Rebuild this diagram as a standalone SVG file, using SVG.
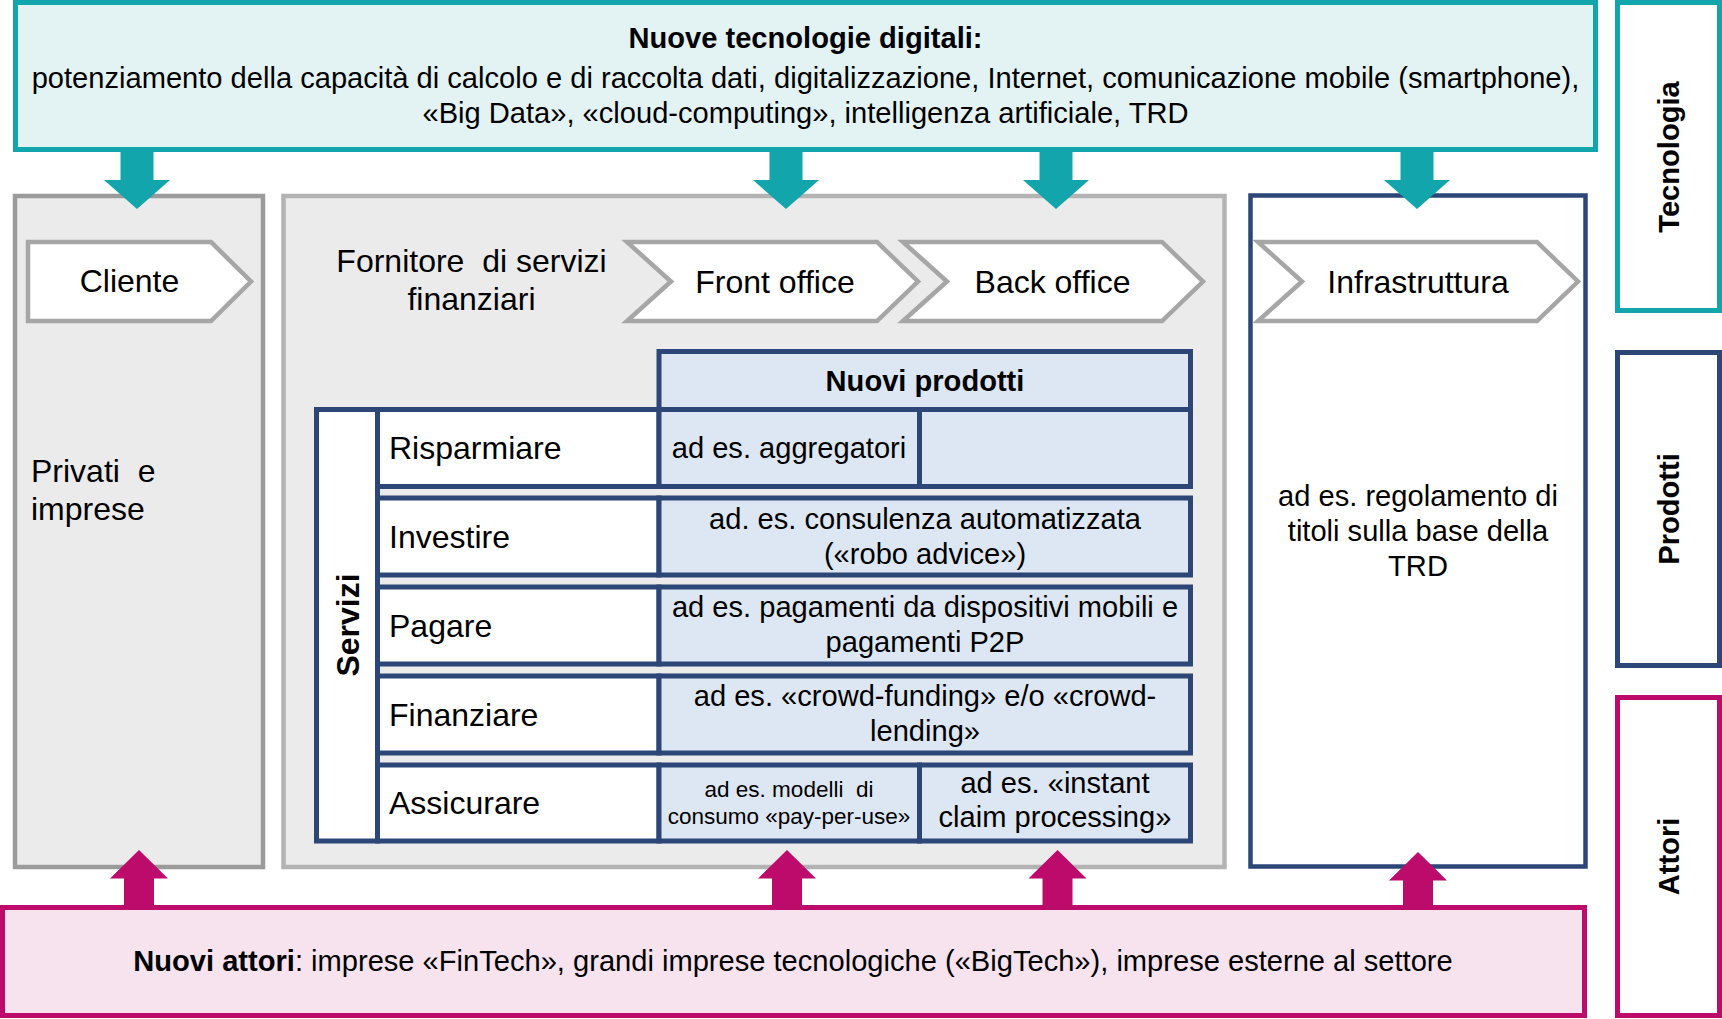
<svg xmlns="http://www.w3.org/2000/svg" width="1722" height="1019" viewBox="0 0 1722 1019">
<style>
text{font-family:"Liberation Sans",Arial,sans-serif;fill:#000}
.lbl{font-size:32px}
.txt{font-size:29.1px}
.sm{font-size:22.5px}
.b{font-weight:bold}
.c{text-anchor:middle}
.tealbox{fill:#e3f3f4;stroke:#12a5ab;stroke-width:5}
.g1{fill:#ebebeb;stroke:#9b9b9b;stroke-width:4.5}
.g2{fill:#ebebeb;stroke:#b3b3b3;stroke-width:4.5}
.nv{fill:#fff;stroke:#2c4677;stroke-width:4.5}
.chev{fill:#fff;stroke:#a6a6a6;stroke-width:4.5}
.cw{fill:#fff;stroke:#2c4677;stroke-width:5}
.cb{fill:#dce7f3;stroke:#2c4677;stroke-width:5}
.st{fill:#fff;stroke:#12a5ab;stroke-width:5}
.sn{fill:#fff;stroke:#2c4677;stroke-width:5}
.sm2{fill:#fff;stroke:#bd0b6b;stroke-width:5}
.magbox{fill:#f6e3ee;stroke:#bd0b6b;stroke-width:5}
.ta{fill:#12a5ab}
.ma{fill:#bd0b6b}
</style>
<defs>
<path id="arrDown" d="M-16.5,0 H16.5 V30 H33 L0,59 L-33,30 H-16.5 Z"/>
<path id="arrUp" d="M0,0 L29,28.5 H15 V58 H-15 V28.5 H-29 Z"/>
</defs>

<g id="nuove-tecnologie">
<rect class="tealbox" x="15.5" y="2.5" width="1580" height="147"/>
<text class="txt b c" x="805.5" y="48">Nuove tecnologie digitali:</text>
<text class="txt c" x="805.5" y="88">potenziamento della capacità di calcolo e di raccolta dati, digitalizzazione, Internet, comunicazione mobile (smartphone),</text>
<text class="txt c" x="805.5" y="123">«Big Data», «cloud-computing», intelligenza artificiale, TRD</text>
</g>

<g id="cliente">
<rect class="g1" x="15" y="196" width="248" height="671"/>
<path class="chev" d="M28,242 H211 L251,281.5 L211,321 H28 Z"/>
<text class="lbl c" x="129.5" y="292">Cliente</text>
<text class="lbl" x="31" y="482" xml:space="preserve">Privati  e</text>
<text class="lbl" x="31" y="520">imprese</text>
</g>

<g id="fornitore">
<rect class="g2" x="283.5" y="196" width="941" height="671"/>
<text class="lbl c" x="471.5" y="272" xml:space="preserve">Fornitore  di servizi</text>
<text class="lbl c" x="471.5" y="310">finanziari</text>
</g>

<g id="front-office">
<path class="chev" d="M627,242 H877 L918,281.5 L877,321 H627 L671,281.5 Z"/>
<text class="lbl c" x="775" y="293">Front office</text>
</g>

<g id="back-office">
<path class="chev" d="M903,242 H1162 L1203,281.5 L1162,321 H903 L947,281.5 Z"/>
<text class="lbl c" x="1052.5" y="293">Back office</text>
</g>

<g id="tabella-servizi">
<rect class="cb" x="659" y="351.5" width="531.5" height="58"/>
<text class="txt b c" x="925" y="391">Nuovi prodotti</text>
<rect class="cw" x="316.5" y="409.5" width="61" height="431.5"/>
<text class="lbl b c" transform="translate(358.5,625) rotate(-90)">Servizi</text>

<g id="risparmiare">
<rect class="cw" x="377.5" y="409.5" width="281.5" height="77"/>
<rect class="cb" x="659" y="409.5" width="260.5" height="77"/>
<rect class="cb" x="919.5" y="409.5" width="271" height="77"/>
<text class="lbl" x="389" y="459">Risparmiare</text>
<text class="txt c" x="789" y="458">ad es. aggregatori</text>
</g>
<g id="investire">
<rect class="cw" x="377.5" y="498" width="281.5" height="77"/>
<rect class="cb" x="659" y="498" width="531.5" height="77"/>
<text class="lbl" x="389" y="547.5">Investire</text>
<text class="txt c" x="925" y="529">ad. es. consulenza automatizzata</text>
<text class="txt c" x="925" y="564">(«robo advice»)</text>
</g>
<g id="pagare">
<rect class="cw" x="377.5" y="587" width="281.5" height="77"/>
<rect class="cb" x="659" y="587" width="531.5" height="77"/>
<text class="lbl" x="389" y="636.5">Pagare</text>
<text class="txt c" x="925" y="617">ad es. pagamenti da dispositivi mobili e</text>
<text class="txt c" x="925" y="652">pagamenti P2P</text>
</g>
<g id="finanziare">
<rect class="cw" x="377.5" y="676" width="281.5" height="77"/>
<rect class="cb" x="659" y="676" width="531.5" height="77"/>
<text class="lbl" x="389" y="725.5">Finanziare</text>
<text class="txt c" x="925" y="706">ad es. «crowd-funding» e/o «crowd-</text>
<text class="txt c" x="925" y="741">lending»</text>
</g>
<g id="assicurare">
<rect class="cw" x="377.5" y="765" width="281.5" height="76"/>
<rect class="cb" x="659" y="765" width="260.5" height="76"/>
<rect class="cb" x="919.5" y="765" width="271" height="76"/>
<text class="lbl" x="389" y="814">Assicurare</text>
<text class="sm c" x="789" y="797" xml:space="preserve">ad es. modelli  di</text>
<text class="sm c" x="789" y="824">consumo «pay-per-use»</text>
<text class="txt c" x="1055" y="793">ad es. «instant</text>
<text class="txt c" x="1055" y="827">claim processing»</text>
</g>
</g>

<g id="infrastruttura">
<rect class="nv" x="1250.5" y="195.5" width="335" height="671"/>
<path class="chev" d="M1258,242 H1537 L1578,281.5 L1537,321 H1258 L1302,281.5 Z"/>
<text class="lbl c" x="1418" y="293">Infrastruttura</text>
<text class="txt c" x="1418" y="506">ad es. regolamento di</text>
<text class="txt c" x="1418" y="541">titoli sulla base della</text>
<text class="txt c" x="1418" y="576">TRD</text>
</g>

<g id="nuovi-attori">
<rect class="magbox" x="2.5" y="907.5" width="1582" height="108"/>
<text class="txt c" x="793" y="971"><tspan class="b">Nuovi attori</tspan>: imprese «FinTech», grandi imprese tecnologiche («BigTech»), imprese esterne al settore</text>
</g>

<g id="tecnologia">
<rect class="st" x="1617.5" y="2.5" width="102" height="308"/>
<text class="txt b c" transform="translate(1678.5,157) rotate(-90)">Tecnologia</text>
</g>
<g id="prodotti">
<rect class="sn" x="1617.5" y="352.5" width="102" height="313"/>
<text class="txt b c" transform="translate(1678.5,509) rotate(-90)">Prodotti</text>
</g>
<g id="attori">
<rect class="sm2" x="1617.5" y="697.5" width="102" height="318"/>
<text class="txt b c" transform="translate(1678.5,856.5) rotate(-90)">Attori</text>
</g>

<g id="connectors">
<use href="#arrDown" class="ta" transform="translate(137,150)"/>
<use href="#arrDown" class="ta" transform="translate(786,150)"/>
<use href="#arrDown" class="ta" transform="translate(1056,150)"/>
<use href="#arrDown" class="ta" transform="translate(1417,150)"/>
<use href="#arrUp" class="ma" transform="translate(139,850)"/>
<use href="#arrUp" class="ma" transform="translate(787,850)"/>
<use href="#arrUp" class="ma" transform="translate(1057.5,850)"/>
<use href="#arrUp" class="ma" transform="translate(1418,852)"/>
</g>
</svg>
